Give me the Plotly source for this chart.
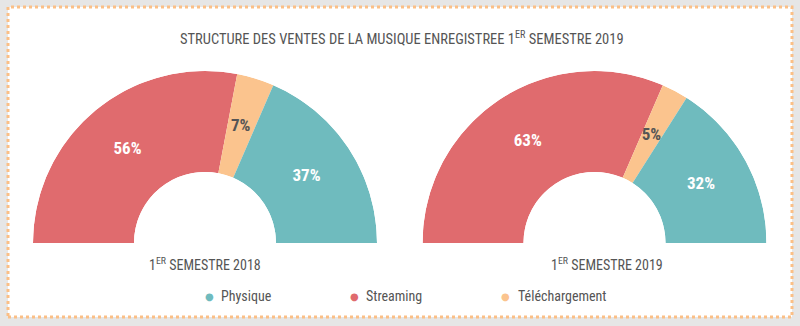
import plotly.graph_objects as go

# ---- data ----
categories = ["Streaming", "Téléchargement", "Physique"]
values_2018 = [56, 7, 37]
values_2019 = [63, 5, 32]
colors = {"Streaming": "#e06b6e", "Téléchargement": "#fbc48e", "Physique": "#6fbbbe"}
label_colors = {"Streaming": "white", "Téléchargement": "#555555", "Physique": "white"}
legend_order = ["Physique", "Streaming", "Téléchargement"]
title_text = "STRUCTURE DES VENTES DE LA MUSIQUE ENREGISTREE 1<sup>ER</sup> SEMESTRE 2019"
subtitles = ["1<sup>ER</sup> SEMESTRE 2018", "1<sup>ER</sup> SEMESTRE 2019"]

W, H = 800, 326
FONT = "Liberation Sans Narrow, Roboto Condensed, Arial Narrow, Roboto, sans-serif"
TXT = "#555555"

fig = go.Figure()

def add_half_donut(values, polar):
    start = 0.0
    for cat, v in zip(categories, values):
        width = v * 1.8
        mid = start + width / 2
        fig.add_trace(go.Barpolar(
            r=[1], theta=[mid], width=[width], base=0,
            marker=dict(color=colors[cat], line=dict(width=0)),
            name=cat, showlegend=False, subplot=polar, hoverinfo="name"))
        fig.add_trace(go.Scatterpolar(
            r=[0.5], theta=[mid], mode="text", text=[f"<b>{v}%</b>"],
            textfont=dict(family=FONT, size=17, color=label_colors[cat]),
            showlegend=False, subplot=polar, hoverinfo="skip"))
        start += width

add_half_donut(values_2018, "polar")
add_half_donut(values_2019, "polar2")

polar_common = dict(
    sector=[0, 180], hole=0.413, bgcolor="rgba(0,0,0,0)",
    radialaxis=dict(range=[0, 1], visible=False, showgrid=False),
    angularaxis=dict(visible=False, rotation=180, direction="clockwise", showgrid=False),
    barmode="overlay", bargap=0,
)
y0, y1 = 1 - 243 / H, 1 - 71 / H
fig.update_layout(
    polar=dict(domain=dict(x=[32 / W, 378 / W], y=[y0, y1]), **polar_common),
    polar2=dict(domain=dict(x=[421 / W, 768 / W], y=[y0, y1]), **polar_common),
)

shapes = [dict(type="rect", xref="paper", yref="paper", layer="below",
               x0=8 / W, x1=792 / W, y0=1 - 317 / H, y1=1 - 7 / H,
               fillcolor="white", line=dict(color="#fbbf86", width=3, dash="dot"))]

annotations = [
    dict(text=title_text, x=402 / W, y=1 - 38 / H, xref="paper", yref="paper",
         showarrow=False, font=dict(family=FONT, size=14.5, color=TXT), xanchor="center", yanchor="middle"),
    dict(text=subtitles[0], x=205 / W, y=1 - 264 / H, xref="paper", yref="paper",
         showarrow=False, font=dict(family=FONT, size=14, color=TXT), xanchor="center", yanchor="middle"),
    dict(text=subtitles[1], x=607 / W, y=1 - 264 / H, xref="paper", yref="paper",
         showarrow=False, font=dict(family=FONT, size=14, color=TXT), xanchor="center", yanchor="middle"),
]
legend_dot_x = [209, 354, 506]
for cat, dx in zip(legend_order, legend_dot_x):
    annotations.append(dict(text="●", x=dx / W, y=1 - 296 / H, xref="paper", yref="paper",
                            showarrow=False, font=dict(family="DejaVu Sans", size=10, color=colors[cat]),
                            xanchor="center", yanchor="middle"))
    annotations.append(dict(text=cat, x=(dx + 10) / W, y=1 - 295.5 / H, xref="paper", yref="paper",
                            showarrow=False, font=dict(family=FONT, size=14, color=TXT),
                            xanchor="left", yanchor="middle"))

fig.update_layout(
    width=W, height=H, margin=dict(l=0, r=0, t=0, b=0),
    paper_bgcolor="#e6e6e6", plot_bgcolor="rgba(0,0,0,0)",
    shapes=shapes, annotations=annotations, showlegend=False,
)

fig.write_html("out.html")
